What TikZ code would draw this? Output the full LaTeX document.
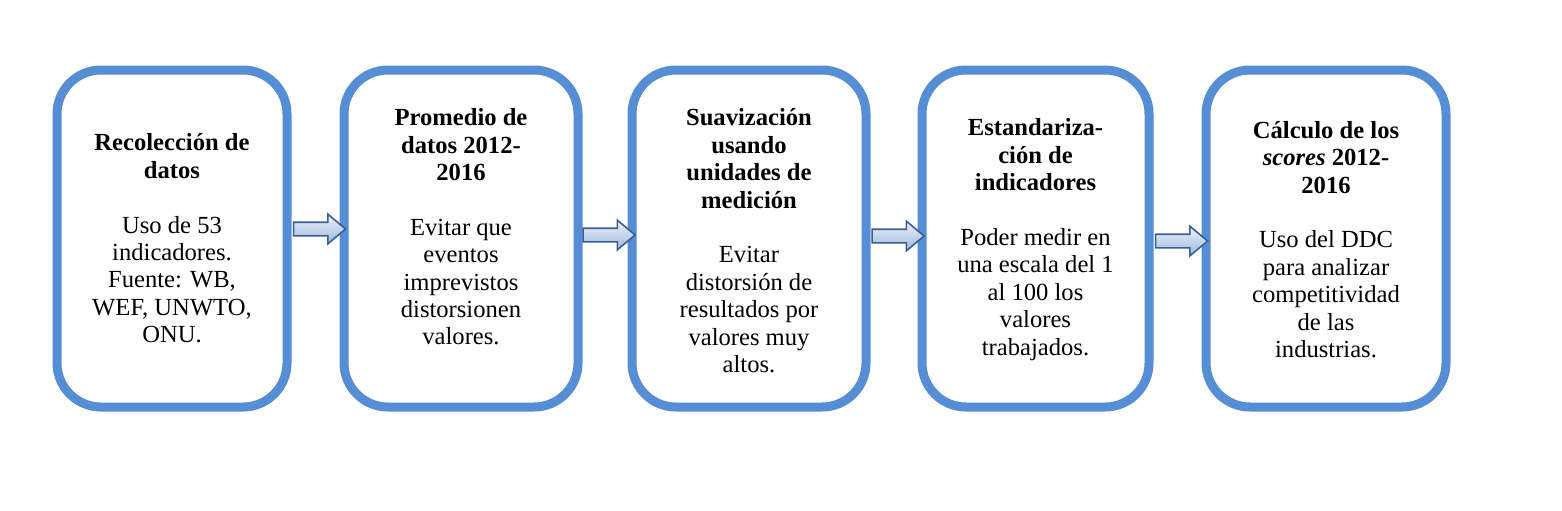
\documentclass[tikz,border=0pt]{standalone}
\usepackage{fontspec}
\setmainfont{Liberation Serif}
\usetikzlibrary{shapes.arrows,calc}
\definecolor{boxblue}{HTML}{558ED5}
\definecolor{arrowline}{HTML}{3B5E94}
\definecolor{arrowtop}{HTML}{EEF3FA}
\definecolor{arrowbot}{HTML}{9CB7DF}

\begin{document}
\begin{tikzpicture}[x=0.5pt,y=0.5pt,
  stage/.style={draw=boxblue,line width=4.5pt,rounded corners=22pt,fill=white,minimum height=168.5pt,inner sep=0pt},
  stagetext/.style={align=center,font=\fontsize{12.3}{13.7}\selectfont},
  flecha/.style={single arrow,draw=arrowline,line width=0.8pt,top color=arrowtop,bottom color=arrowbot,
    minimum height=26pt,minimum width=14pt,inner sep=3pt,single arrow head extend=4pt,single arrow tip angle=80}]
  \useasboundingbox (0,0) rectangle (1562,-510);
  % the five stages
  \node[stage,minimum width=115pt] (recol) at (172,-238.5) {};
  \node[stage,minimum width=117pt] (prom) at (461,-238.5) {};
  \node[stage,minimum width=117pt] (suav) at (749,-238.5) {};
  \node[stage,minimum width=113.5pt] (estand) at (1035.5,-238.5) {};
  \node[stage,minimum width=120pt] (calc) at (1326,-238.5) {};
  \node[stagetext] (recoltxt) at (recol.center) {\textbf{Recolección de}\\\textbf{datos}\\[13.7pt]Uso de 53\\indicadores.\\Fuente: WB,\\WEF, UNWTO,\\ONU.};
  \node[stagetext] (promtxt) at ([yshift=5.75pt]prom.center) {\textbf{Promedio de}\\\textbf{datos 2012-}\\\textbf{2016}\\[13.7pt]Evitar que\\eventos\\imprevistos\\distorsionen\\valores.};
  \node[stagetext] (suavtxt) at ([yshift=-1.2pt]suav.center) {\textbf{Suavización}\\\textbf{usando}\\\textbf{unidades de}\\\textbf{medición}\\[13.7pt]Evitar\\distorsión de\\resultados por\\valores muy\\altos.};
  \node[stagetext] (estandtxt) at ([yshift=-0.5pt]estand.center) {\textbf{Estandariza-}\\\textbf{ción de}\\\textbf{indicadores}\\[13.7pt]Poder medir en\\una escala del 1\\al 100 los\\valores\\trabajados.};
  \node[stagetext] (calctxt) at ([yshift=-0.5pt]calc.center) {\textbf{Cálculo de los}\\\textbf{\textit{scores} 2012-}\\\textbf{2016}\\[13.7pt]Uso del DDC\\para analizar\\competitividad\\de las\\industrias.};
  % arrows between stages
  \node[flecha] (f1) at ($(recol.east)!0.5!(prom.west)+(0,9.5)$) {};
  \node[flecha] (f2) at ($(prom.east)!0.5!(suav.west)+(0,3.5)$) {};
  \node[flecha] (f3) at ($(suav.east)!0.5!(estand.west)+(0,2.5)$) {};
  \node[flecha] (f4) at ($(estand.east)!0.5!(calc.west)+(0,-2.5)$) {};
\end{tikzpicture}
\end{document}
